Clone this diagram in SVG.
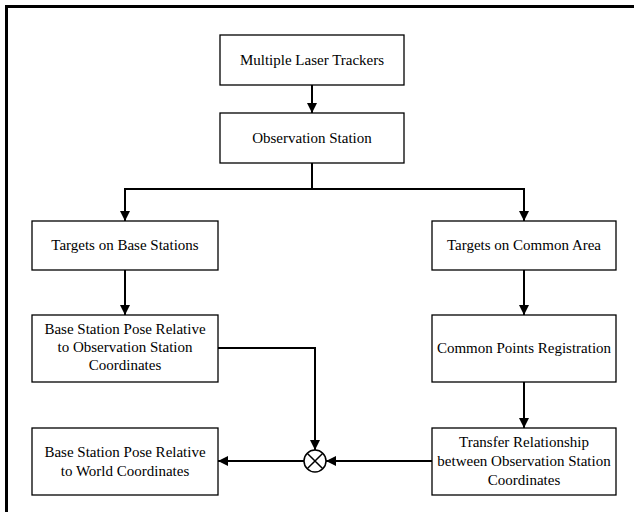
<svg xmlns="http://www.w3.org/2000/svg" width="634" height="512" viewBox="0 0 634 512">
<style>
.box{fill:#fff;stroke:#000;stroke-width:1.3}
.t{font-size:15px;fill:#000;text-anchor:middle}
.c{fill:none;stroke:#000;stroke-width:2}
</style>
<defs>
<marker id="ah" markerWidth="10" markerHeight="10" refX="10" refY="5" orient="auto" markerUnits="userSpaceOnUse">
<path d="M0,0 L10,5 L0,10 Z" fill="#000"/>
</marker>
</defs>
<rect width="634" height="512" fill="#fff"/>
<path d="M6.5,512 V6.5 H634" fill="none" stroke="#000" stroke-width="3"/>
<g id="connectors">
<line class="c" x1="312" y1="85" x2="312" y2="113" marker-end="url(#ah)"/>
<path class="c" d="M312,163 V189"/>
<path class="c" d="M125,189 H524"/>
<line class="c" x1="125" y1="188" x2="125" y2="221" marker-end="url(#ah)"/>
<line class="c" x1="524" y1="188" x2="524" y2="221" marker-end="url(#ah)"/>
<line class="c" x1="125" y1="270" x2="125" y2="315" marker-end="url(#ah)"/>
<line class="c" x1="524" y1="270" x2="524" y2="315" marker-end="url(#ah)"/>
<line class="c" x1="524" y1="382" x2="524" y2="428" marker-end="url(#ah)"/>
<path class="c" d="M218,348 H315 V450" marker-end="url(#ah)"/>
<line class="c" x1="432" y1="461" x2="326" y2="461" marker-end="url(#ah)"/>
<line class="c" x1="304" y1="461" x2="218" y2="461" marker-end="url(#ah)"/>
</g>
<g id="sum">
<circle cx="315" cy="461" r="11" fill="#fff" stroke="#000" stroke-width="1.5"/>
<path d="M307.2,453.2 L322.8,468.8 M322.8,453.2 L307.2,468.8" stroke="#000" stroke-width="1.5"/>
</g>
<g font-family="Liberation Serif, DejaVu Serif, serif">
<g id="n1"><rect class="box" x="220" y="35" width="184" height="50"/><text class="t" x="312" y="65">Multiple Laser Trackers</text></g>
<g id="n2"><rect class="box" x="220" y="113" width="184" height="50"/><text class="t" x="312" y="143">Observation Station</text></g>
<g id="n3"><rect class="box" x="32" y="221" width="186" height="49"/><text class="t" x="125" y="250">Targets on Base Stations</text></g>
<g id="n4"><rect class="box" x="432" y="221" width="184" height="49"/><text class="t" x="524" y="250">Targets on Common Area</text></g>
<g id="n5"><rect class="box" x="32" y="315" width="186" height="67"/><text class="t" x="125" y="334">Base Station Pose Relative</text><text class="t" x="125" y="352">to Observation Station</text><text class="t" x="125" y="370">Coordinates</text></g>
<g id="n6"><rect class="box" x="432" y="315" width="184" height="67"/><text class="t" x="524" y="353">Common Points Registration</text></g>
<g id="n7"><rect class="box" x="32" y="428" width="186" height="67"/><text class="t" x="125" y="457">Base Station Pose Relative</text><text class="t" x="125" y="476">to World Coordinates</text></g>
<g id="n8"><rect class="box" x="432" y="428" width="184" height="67"/><text class="t" x="524" y="447">Transfer Relationship</text><text class="t" x="524" y="466">between Observation Station</text><text class="t" x="524" y="485">Coordinates</text></g>
</g>
</svg>
